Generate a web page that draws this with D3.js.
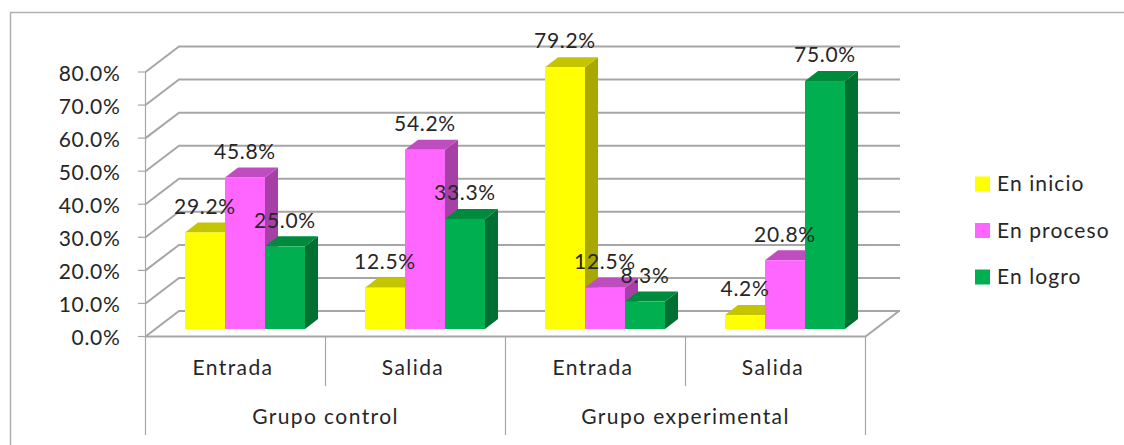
<!DOCTYPE html>
<html><head><meta charset="utf-8">
<script src="https://cdn.jsdelivr.net/npm/d3@7/dist/d3.min.js"></script>
<style>html,body{margin:0;padding:0;background:#fff}svg{display:block}text{font-family:Lato,sans-serif;fill:#262626;letter-spacing:.7px}text.wide{letter-spacing:1.4px}text.leg{letter-spacing:1.1px}</style>
</head><body><svg id="c" width="1124" height="445"></svg>
<script>
const groups = ["Grupo control","Grupo experimental"];
const periods = ["Entrada","Salida"];
const seriesNames = ["En inicio","En proceso","En logro"];
const enInicio = [29.2,12.5,79.2,4.2];
const enProceso = [45.8,54.2,12.5,20.8];
const enLogro = [25.0,33.3,8.3,75.0];
const faceColors = ["#FFFF00","#FF66FF","#00B050"];
const topColors = ["#C4C400","#BF4DBF","#008A3E"];
const sideColors = ["#A8A800","#A640A6","#006F32"];
const yTicks = [0,10,20,30,40,50,60,70,80];
const allSeries = [enInicio,enProceso,enLogro];
const categories = d3.range(4);

const svg = d3.select("#c");
const grey = "#a6a6a6";
const y = d3.scaleLinear().domain([0,80]).range([336.5,72]);
const x0 = d3.scaleBand().domain(categories).range([145.5,865.5]);
const dBack = [33.5,-25.5];
const barInset = 39.5, barW = 40, bd = [13,-10];
const floorOffset = 7.5;

// frame: only the top and left edges are visible
svg.append("path").attr("d","M10.5,445V12.5H1124").attr("fill","none").attr("stroke","#b0b0b0").attr("stroke-width",1.5);

// gridlines on the back wall with left diagonals
const gl = svg.append("g").attr("fill","none").attr("stroke",grey);
yTicks.forEach(t=>{
  const yy=y(t);
  gl.append("path").attr("stroke-width",2).attr("d",`M${145.5},${yy}L${145.5+dBack[0]},${yy+dBack[1]}H${900}`);
  gl.append("path").attr("stroke-width",1.2).attr("d",`M138,${yy}H146`);
});
gl.append("path").attr("stroke-width",2).attr("d",`M145.5,${y(0)}H865.5L${865.5+dBack[0]},${y(0)+dBack[1]}`);
gl.append("path").attr("stroke-width",1.2).attr("d",`M145.5,${y(80)}V${y(0)}`);
// category separators
gl.append("path").attr("stroke-width",1.2).attr("d",`M145.5,${y(0)}V435`);
gl.append("path").attr("stroke-width",1.2).attr("d",`M${x0(1)},${y(0)}V386`);
gl.append("path").attr("stroke-width",1.2).attr("d",`M${x0(2)},${y(0)}V435`);
gl.append("path").attr("stroke-width",1.2).attr("d",`M${x0(3)},${y(0)}V386`);
gl.append("path").attr("stroke-width",1.2).attr("d",`M865.5,${y(0)}V435`);

// y labels
svg.append("g").selectAll("text").data(yTicks).join("text")
  .attr("x",120.5).attr("y",d=>y(d)+1.5).attr("dy","0.35em").attr("text-anchor","end")
  .attr("font-size",21).text(d=>d.toFixed(1)+"%");

// bars, left to right so each face hides the previous bar's side
const bars = svg.append("g");
categories.forEach(c=>{
  [0,1,2].forEach(s=>{
    const v=allSeries[s][c];
    const xl=x0(c)+barInset+s*barW, xr=xl+barW;
    const b=y(0)-floorOffset, t=y(v)-floorOffset;
    const g=bars.append("g");
    g.append("path").attr("fill",sideColors[s]).attr("d",`M${xr},${t}L${xr+bd[0]},${t+bd[1]}V${b+bd[1]}L${xr},${b}Z`);
    g.append("path").attr("fill",topColors[s]).attr("d",`M${xl},${t}L${xl+bd[0]},${t+bd[1]}H${xr+bd[0]}L${xr},${t}Z`);
    g.append("rect").attr("x",xl).attr("y",t).attr("width",barW).attr("height",b-t).attr("fill",faceColors[s]);
  });
});
// data labels
const labels = svg.append("g");
categories.forEach(c=>{
  [0,1,2].forEach(s=>{
    const v=allSeries[s][c];
    labels.append("text").attr("x",x0(c)+barInset+s*barW+barW/2).attr("y",y(v)-floorOffset-26)
      .attr("dy","0.35em").attr("text-anchor","middle").attr("font-size",21).text(v.toFixed(1)+"%");
  });
});
// category labels
svg.append("g").selectAll("text").data(categories).join("text").attr("class","wide")
  .attr("x",d=>x0(d)+x0.bandwidth()/2-2.5).attr("y",368).attr("dy","0.35em").attr("text-anchor","middle")
  .attr("font-size",21).text(d=>periods[d%2]);
svg.append("g").selectAll("text").data(groups).join("text").attr("class","wide")
  .attr("x",(d,i)=>x0(i*2)+x0.bandwidth()).attr("y",417).attr("dy","0.35em").attr("text-anchor","middle")
  .attr("font-size",21).text(d=>d);
// legend
const ly = d3.scalePoint().domain(seriesNames).range([184,277]);
const lg = svg.append("g").selectAll("g").data(seriesNames).join("g").attr("transform",d=>`translate(975,${ly(d)})`);
lg.append("rect").attr("x",0).attr("y",-7.5).attr("width",15).attr("height",15).attr("fill",(d,i)=>faceColors[i]);
lg.append("text").attr("class","leg").attr("x",22).attr("y",0).attr("dy","0.35em").attr("font-size",21).text(d=>d);
</script></body></html>
